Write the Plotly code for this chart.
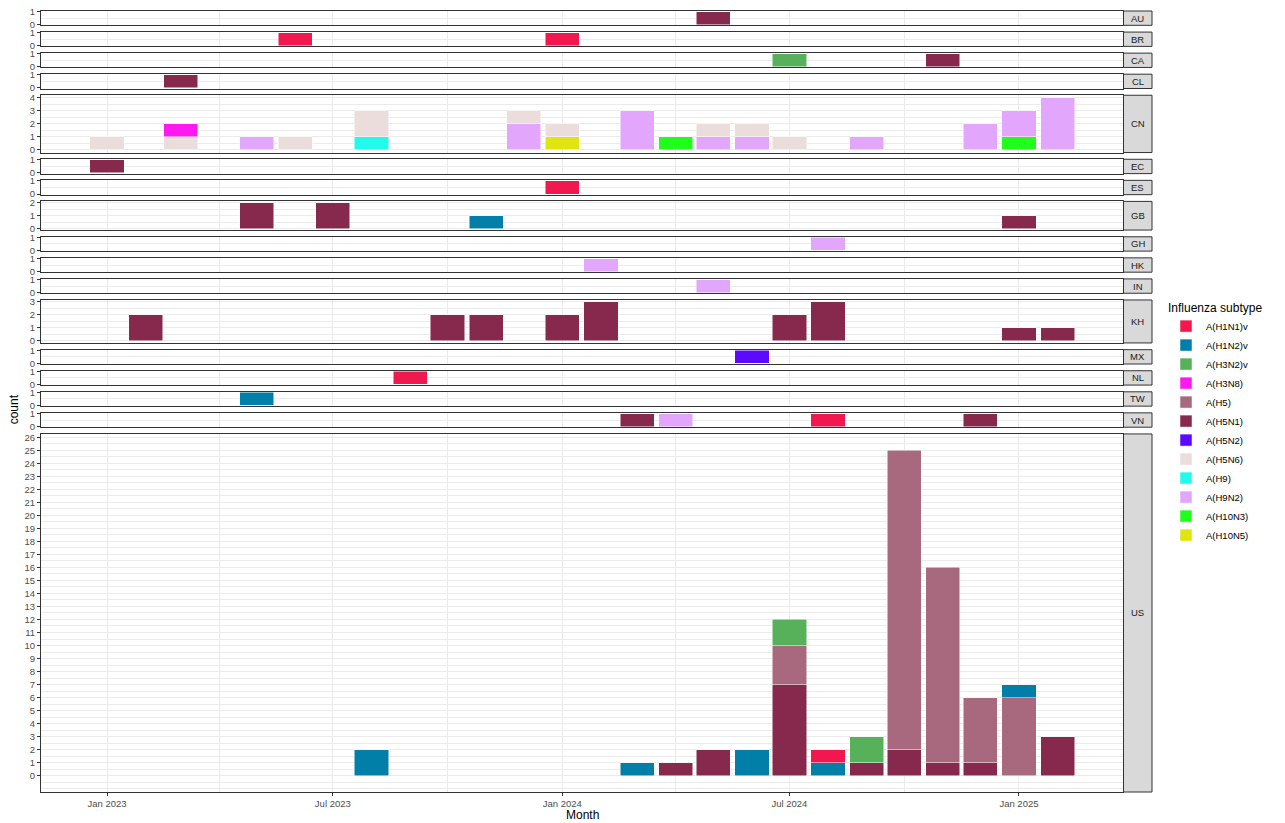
import math
import pandas as pd
import plotly.graph_objects as go
from plotly.subplots import make_subplots

# ---------------- data ----------------
countries = ["AU", "BR", "CA", "CL", "CN", "EC", "ES", "GB", "GH", "HK",
             "IN", "KH", "MX", "NL", "TW", "VN", "US"]

subtypes = ["A(H1N1)v", "A(H1N2)v", "A(H3N2)v", "A(H3N8)", "A(H5)", "A(H5N1)",
            "A(H5N2)", "A(H5N6)", "A(H9)", "A(H9N2)", "A(H10N3)", "A(H10N5)"]

subtype_colors = ["#F1184F", "#017FA8", "#57B05A", "#FF19F0", "#A8697F", "#86294D",
                  "#5B0AFF", "#EADDDC", "#21FBEB", "#E2A6FC", "#20FF1C", "#E0E511"]

rec_country = (["AU"] + ["BR"] * 2 + ["CA"] * 2 + ["CL"] + ["CN"] * 23 + ["EC"] + ["ES"]
               + ["GB"] * 4 + ["GH"] + ["HK"] + ["IN"] + ["KH"] * 9 + ["MX"] + ["NL"]
               + ["TW"] + ["VN"] * 4 + ["US"] * 21)

rec_month = [
    # AU
    "2024-05",
    # BR
    "2023-06", "2024-01",
    # CA
    "2024-07", "2024-11",
    # CL
    "2023-03",
    # CN
    "2023-01", "2023-03", "2023-03", "2023-05", "2023-06", "2023-08", "2023-08",
    "2023-12", "2023-12", "2024-01", "2024-01", "2024-03", "2024-04", "2024-05",
    "2024-05", "2024-06", "2024-06", "2024-07", "2024-09", "2024-12", "2025-01",
    "2025-01", "2025-02",
    # EC
    "2023-01",
    # ES
    "2024-01",
    # GB
    "2023-05", "2023-07", "2023-11", "2025-01",
    # GH
    "2024-08",
    # HK
    "2024-02",
    # IN
    "2024-05",
    # KH
    "2023-02", "2023-10", "2023-11", "2024-01", "2024-02", "2024-07", "2024-08",
    "2025-01", "2025-02",
    # MX
    "2024-06",
    # NL
    "2023-09",
    # TW
    "2023-05",
    # VN
    "2024-03", "2024-04", "2024-08", "2024-12",
    # US
    "2023-08", "2024-03", "2024-04", "2024-05", "2024-06", "2024-07", "2024-07",
    "2024-07", "2024-08", "2024-08", "2024-09", "2024-09", "2024-10", "2024-10",
    "2024-11", "2024-11", "2024-12", "2024-12", "2025-01", "2025-01", "2025-02",
]

rec_subtype = [
    # AU
    "A(H5N1)",
    # BR
    "A(H1N1)v", "A(H1N1)v",
    # CA
    "A(H3N2)v", "A(H5N1)",
    # CL
    "A(H5N1)",
    # CN
    "A(H5N6)", "A(H5N6)", "A(H3N8)", "A(H9N2)", "A(H5N6)", "A(H9)", "A(H5N6)",
    "A(H9N2)", "A(H5N6)", "A(H10N5)", "A(H5N6)", "A(H9N2)", "A(H10N3)", "A(H9N2)",
    "A(H5N6)", "A(H9N2)", "A(H5N6)", "A(H5N6)", "A(H9N2)", "A(H9N2)", "A(H10N3)",
    "A(H9N2)", "A(H9N2)",
    # EC
    "A(H5N1)",
    # ES
    "A(H1N1)v",
    # GB
    "A(H5N1)", "A(H5N1)", "A(H1N2)v", "A(H5N1)",
    # GH
    "A(H9N2)",
    # HK
    "A(H9N2)",
    # IN
    "A(H9N2)",
    # KH
    "A(H5N1)", "A(H5N1)", "A(H5N1)", "A(H5N1)", "A(H5N1)", "A(H5N1)", "A(H5N1)",
    "A(H5N1)", "A(H5N1)",
    # MX
    "A(H5N2)",
    # NL
    "A(H1N1)v",
    # TW
    "A(H1N2)v",
    # VN
    "A(H5N1)", "A(H9N2)", "A(H1N1)v", "A(H5N1)",
    # US
    "A(H1N2)v", "A(H1N2)v", "A(H5N1)", "A(H5N1)", "A(H1N2)v", "A(H5N1)", "A(H5)",
    "A(H3N2)v", "A(H1N2)v", "A(H1N1)v", "A(H5N1)", "A(H3N2)v", "A(H5N1)", "A(H5)",
    "A(H5N1)", "A(H5)", "A(H5N1)", "A(H5)", "A(H5)", "A(H1N2)v", "A(H5N1)",
]

rec_count = [
    # AU
    1,
    # BR
    1, 1,
    # CA
    1, 1,
    # CL
    1,
    # CN
    1, 1, 1, 1, 1, 1, 2,
    2, 1, 1, 1, 3, 1, 1,
    1, 1, 1, 1, 1, 2, 1,
    2, 4,
    # EC
    1,
    # ES
    1,
    # GB
    2, 2, 1, 1,
    # GH
    1,
    # HK
    1,
    # IN
    1,
    # KH
    2, 2, 2, 2, 3, 2, 3, 1, 1,
    # MX
    1,
    # NL
    1,
    # TW
    1,
    # VN
    1, 1, 1, 1,
    # US
    2, 1, 1, 2, 2, 7, 3,
    2, 1, 1, 1, 2, 2, 23,
    1, 15, 1, 5, 6, 1, 3,
]

major_tick_dates = ["2023-01-01", "2023-07-01", "2024-01-01", "2024-07-01", "2025-01-01"]
major_tick_labels = ["Jan 2023", "Jul 2023", "Jan 2024", "Jul 2024", "Jan 2025"]
minor_tick_dates = ["2023-04-01", "2023-10-01", "2024-04-01", "2024-10-01"]

# ---------------- build ----------------
df = pd.DataFrame({"country": rec_country, "month": rec_month,
                   "subtype": rec_subtype, "count": rec_count})
df["date"] = pd.to_datetime(df["month"] + "-01")

FONT = "Liberation Sans, Arial, sans-serif"
n_rows = len(countries)

FIG_W, FIG_H = 1285, 823
M_L, M_R, M_T, M_B = 41, 162, 11, 31
plot_w = FIG_W - M_L - M_R
plot_h = FIG_H - M_T - M_B

# free y scale with proportional panel heights (ggplot space = "free_y")
totals = df.groupby(["country", "date"])["count"].sum()
ymax = {c: int(totals[c].max()) for c in countries}
row_heights = [1.1 * ymax[c] for c in countries]

gap_px = 6.74
fig = make_subplots(rows=n_rows, cols=1, shared_xaxes=True,
                    row_heights=row_heights, vertical_spacing=gap_px / plot_h)

bar_width_ms = 27.4 * 86400000
color_of = dict(zip(subtypes, subtype_colors))
shown = set()

for r, c in enumerate(countries, start=1):
    sub = df[df["country"] == c]
    # first legend level on top of the stack -> add in reverse order
    for s in reversed(subtypes):
        ss = sub[sub["subtype"] == s].sort_values("date")
        if ss.empty:
            continue
        fig.add_trace(go.Bar(
            x=ss["date"], y=ss["count"], name=s,
            marker=dict(color=color_of[s], line=dict(color="white", width=0.5)),
            width=bar_width_ms,
            legendgroup=s, showlegend=s not in shown,
            legendrank=subtypes.index(s) + 1,
            hovertemplate=c + " %{x|%b %Y}<br>" + s + ": %{y}<extra></extra>",
        ), row=r, col=1)
        shown.add(s)

x0 = pd.Timestamp("2023-01-01") - pd.Timedelta(days=52.9)
x1 = pd.Timestamp("2025-01-01") + pd.Timedelta(days=83.4)

axis_line = "#333333"
grid = "#EBEBEB"
tick_font = dict(family=FONT, size=9.5, color="#4D4D4D")

strip_x0 = 1 + 0.5 / plot_w
strip_x1 = 1 + 29 / plot_w

for r, c in enumerate(countries, start=1):
    m = ymax[c]
    top = 1.05 * m
    yt = list(range(0, int(math.floor(top)) + 1))
    fig.update_yaxes(
        range=[-0.05 * m, top], tickmode="array", tickvals=yt,
        ticktext=[str(v) for v in yt],
        ticks="outside", ticklen=3, tickcolor=axis_line, tickwidth=1,
        tickfont=tick_font, showgrid=True, gridcolor=grid, gridwidth=1,
        minor=dict(tick0=0, dtick=0.5, showgrid=True, gridcolor=grid, gridwidth=0.5),
        zeroline=False, showline=True, mirror=True, linecolor=axis_line, linewidth=1,
        automargin=False, fixedrange=True, row=r, col=1)
    last = r == n_rows
    fig.update_xaxes(
        type="date", range=[x0, x1], tickmode="array",
        tickvals=major_tick_dates, ticktext=major_tick_labels,
        showticklabels=last, ticks="outside" if last else "", ticklen=3,
        tickcolor=axis_line, tickfont=tick_font,
        showgrid=True, gridcolor=grid, gridwidth=1,
        minor=dict(tickmode="array", tickvals=minor_tick_dates, showgrid=True,
                   gridcolor=grid, gridwidth=0.5),
        zeroline=False, showline=True, mirror=True, linecolor=axis_line, linewidth=1,
        automargin=False, row=r, col=1)

    # facet strip on the right
    yname = "y" if r == 1 else f"y{r}"
    fig.add_shape(type="rect", xref="paper", yref=f"{yname} domain",
                  x0=strip_x0, x1=strip_x1, y0=0, y1=1,
                  fillcolor="#D9D9D9", line=dict(color=axis_line, width=1))
    fig.add_annotation(text=c, xref="paper", yref=f"{yname} domain",
                       x=(strip_x0 + strip_x1) / 2, y=0.5, showarrow=False,
                       xanchor="center", yanchor="middle",
                       font=dict(family=FONT, size=9.5, color="#1A1A1A"))

fig.add_annotation(text="Month", xref="paper", yref="paper", x=0.5,
                   y=-23 / plot_h, showarrow=False, xanchor="center", yanchor="middle",
                   font=dict(family=FONT, size=12, color="black"))
fig.add_annotation(text="count", xref="paper", yref="paper", x=-27 / plot_w, y=0.49,
                   showarrow=False, textangle=-90, xanchor="center", yanchor="middle",
                   font=dict(family=FONT, size=12, color="black"))

fig.update_layout(
    width=FIG_W, height=FIG_H,
    margin=dict(l=M_L, r=M_R, t=M_T, b=M_B, autoexpand=False),
    barmode="stack",
    paper_bgcolor="white", plot_bgcolor="white",
    font=dict(family=FONT, color="black"),
    showlegend=True,
    legend=dict(
        title=dict(text="Influenza subtype", font=dict(family=FONT, size=12, color="black")),
        font=dict(family=FONT, size=9.5, color="black"),
        x=1 + 43 / plot_w, xanchor="left", y=1 - 285 / plot_h, yanchor="top",
        bgcolor="rgba(0,0,0,0)", tracegroupgap=0, traceorder="normal",
    ),
)

# remove the browser's default 8px page margin so the figure fills the window
fig.write_html("out.html",
               config={"displayModeBar": False},
               post_script="document.body.style.margin='0';document.body.style.overflow='hidden';")
